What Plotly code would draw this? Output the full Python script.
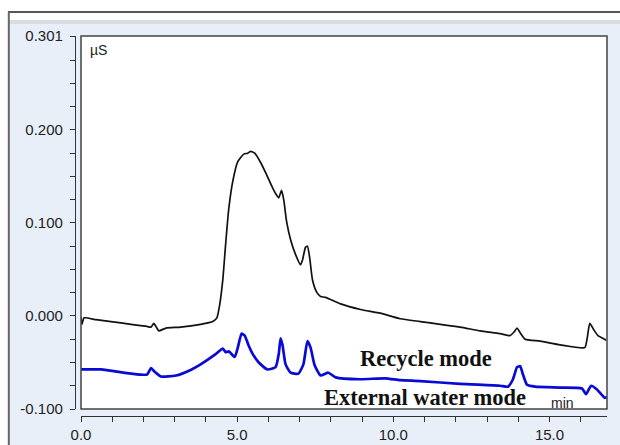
import plotly.graph_objects as go

W, H = 620, 445

# ---- data (minutes, µS) ----
recycle_t = [0.00, 0.03, 0.10, 0.48, 0.96, 1.60, 2.08, 2.24, 2.33, 2.43, 2.49, 2.72, 3.19, 3.83,
             4.22, 4.35, 4.44, 4.54, 4.63, 4.73, 4.86, 5.02, 5.21, 5.34, 5.43, 5.56, 5.75, 5.94,
             6.13, 6.26, 6.33, 6.42, 6.49, 6.58, 6.71, 6.87, 7.03, 7.09, 7.19, 7.25, 7.32, 7.41,
             7.54, 7.67, 7.83, 8.31, 8.95, 9.58, 10.22, 10.86, 11.50, 12.14, 12.78, 13.42, 13.74,
             13.87, 13.96, 14.06, 14.22, 14.70, 15.34, 16.13, 16.20, 16.29, 16.42, 16.55, 16.71, 16.81]
recycle_v = [-0.001, -0.009, -0.002, -0.004, -0.006, -0.009, -0.011, -0.012, -0.008, -0.013, -0.016,
             -0.013, -0.012, -0.009, -0.006, -0.002, 0.012, 0.039, 0.077, 0.115, 0.145, 0.166, 0.174,
             0.175, 0.177, 0.175, 0.165, 0.152, 0.138, 0.130, 0.127, 0.135, 0.125, 0.102, 0.082, 0.066,
             0.055, 0.060, 0.074, 0.075, 0.063, 0.039, 0.026, 0.021, 0.020, 0.013, 0.007, 0.003, -0.003,
             -0.006, -0.009, -0.012, -0.016, -0.019, -0.021, -0.017, -0.013, -0.018, -0.025, -0.027,
             -0.031, -0.034, -0.025, -0.008, -0.015, -0.021, -0.024, -0.026]

external_t = [0.00, 0.64, 1.60, 2.11, 2.24, 2.33, 2.56, 3.04, 3.51, 3.83, 4.31, 4.54, 4.63, 4.73, 4.92,
              5.02, 5.14, 5.24, 5.37, 5.50, 5.69, 5.97, 6.23, 6.33, 6.39, 6.45, 6.55, 6.71, 6.96, 7.12,
              7.25, 7.35, 7.48, 7.67, 7.92, 8.15, 8.95, 9.74, 10.22, 10.86, 12.14, 13.42, 13.67, 13.83,
              13.96, 14.06, 14.15, 14.28, 14.54, 15.34, 16.04, 16.17, 16.33, 16.52, 16.77, 16.84]
external_v = [-0.0575, -0.0575, -0.062, -0.063, -0.056, -0.059, -0.065, -0.064, -0.058, -0.052, -0.041,
              -0.035, -0.039, -0.038, -0.044, -0.034, -0.019, -0.021, -0.032, -0.041, -0.050, -0.0575,
              -0.055, -0.041, -0.024, -0.031, -0.052, -0.061, -0.062, -0.052, -0.027, -0.034, -0.053,
              -0.064, -0.061, -0.066, -0.068, -0.067, -0.069, -0.070, -0.073, -0.075, -0.076, -0.068,
              -0.055, -0.054, -0.063, -0.074, -0.076, -0.077, -0.078, -0.084, -0.075, -0.079, -0.088,
              -0.087]

x_tickvals = [0, 5, 10, 15]
x_ticktext = ["0.0", "5.0", "10.0", "15.0"]
y_tickvals = [-0.1, 0.0, 0.1, 0.2, 0.301]
y_ticktext = ["-0.100", "0.000", "0.100", "0.200", "0.301"]

# ---- layout geometry (window pixels) ----
PL, PR, PT, PB = 81, 607, 36, 409
YAX_X = 75
XAX_Y = 416

def px(x):
    return x / W

def py(y):
    return 1 - y / H

fig = go.Figure()
fig.add_trace(go.Scatter(x=recycle_t, y=recycle_v, mode="lines",
                         line=dict(color="#111111", width=1.7, shape="spline", smoothing=0.5),
                         showlegend=False))
fig.add_trace(go.Scatter(x=external_t, y=external_v, mode="lines",
                         line=dict(color="#0a0ad6", width=2.7, shape="spline", smoothing=0.5),
                         showlegend=False))

tickfont = dict(family="Arial, Liberation Sans, sans-serif", size=15, color="#222222")
BLUE_BG = "#e8eff9"

fig.update_layout(
    width=W, height=H,
    autosize=False,
    margin=dict(l=0, r=0, t=0, b=0, pad=0, autoexpand=False),
    paper_bgcolor=BLUE_BG,
    plot_bgcolor="white",
    showlegend=False,
    xaxis=dict(domain=[px(PL), px(PR)], range=[0, 16.84], anchor="free", position=py(XAX_Y),
               automargin=False,
               showline=True, linecolor="#333333", linewidth=1.2, showgrid=False, zeroline=False,
               ticks="outside", ticklen=5, tickcolor="#333333", tickwidth=1.2,
               tickvals=x_tickvals, ticktext=x_ticktext, tickfont=tickfont,
               minor=dict(ticks="outside", ticklen=5, dtick=1, tick0=0, tickcolor="#333333",
                          showgrid=False)),
    yaxis=dict(domain=[py(PB), py(PT)], range=[-0.1, 0.301], anchor="free", position=px(YAX_X),
               automargin=False,
               showline=True, linecolor="#333333", linewidth=1.2, showgrid=False, zeroline=False,
               ticks="outside", ticklen=5, tickcolor="#333333", tickwidth=1.2,
               tickvals=y_tickvals, ticktext=y_ticktext, tickfont=tickfont, ticklabelstandoff=4,
               minor=dict(ticks="outside", ticklen=5, dtick=0.025, tick0=0, tickcolor="#333333",
                          showgrid=False)),
)

shapes = [
    # white band above the window's top line and left of its left edge
    dict(type="rect", xref="paper", yref="paper", x0=0, x1=1, y0=py(12), y1=1,
         fillcolor="#ffffff", line=dict(width=0), layer="below"),
    dict(type="rect", xref="paper", yref="paper", x0=0, x1=px(8), y0=0, y1=1,
         fillcolor="#ffffff", line=dict(width=0), layer="below"),
    # white strip under the top line
    dict(type="rect", xref="paper", yref="paper", x0=px(9), x1=1, y0=py(20), y1=py(13),
         fillcolor="#ffffff", line=dict(width=0), layer="below"),
    # gray strip
    dict(type="rect", xref="paper", yref="paper", x0=px(9), x1=1, y0=py(24), y1=py(20),
         fillcolor="#d9dce1", line=dict(width=0), layer="below"),
    # white plot area
    dict(type="rect", xref="paper", yref="paper", x0=px(PL), x1=px(PR), y0=py(PB), y1=py(PT),
         fillcolor="#ffffff", line=dict(width=0), layer="below"),
    # plot frame
    dict(type="rect", xref="paper", yref="paper", x0=px(PL), x1=px(PR), y0=py(PB), y1=py(PT),
         line=dict(color="#444444", width=1.5), layer="above"),
    # outer window lines
    dict(type="line", xref="paper", yref="paper", x0=px(8), x1=1, y0=py(12), y1=py(12),
         line=dict(color="#222222", width=1.5)),
    dict(type="line", xref="paper", yref="paper", x0=px(8.8), x1=px(8.8), y0=0, y1=py(12),
         line=dict(color="#666666", width=2)),
]
fig.update_layout(shapes=shapes)

annots = [
    dict(text="µS", x=px(88), y=py(50), xanchor="left", yanchor="middle",
         font=dict(family="Arial, Liberation Sans, sans-serif", size=14, color="#222222")),
    dict(text="min", x=px(562), y=py(403), xanchor="center", yanchor="middle",
         font=dict(family="Arial, Liberation Sans, sans-serif", size=14, color="#222222")),
    dict(text="<b>Recycle mode</b>", x=px(426), y=py(358), xanchor="center", yanchor="middle",
         font=dict(family="Times New Roman, Liberation Serif, serif", size=22.5, color="#111111")),
    dict(text="<b>External water mode</b>", x=px(425), y=py(397), xanchor="center", yanchor="middle",
         font=dict(family="Times New Roman, Liberation Serif, serif", size=22.5, color="#111111")),
]
for a in annots:
    a.update(xref="paper", yref="paper", showarrow=False)
fig.update_layout(annotations=annots)

fig.write_html("out.html",
               post_script="document.body.style.margin='0';document.body.style.padding='0';")
